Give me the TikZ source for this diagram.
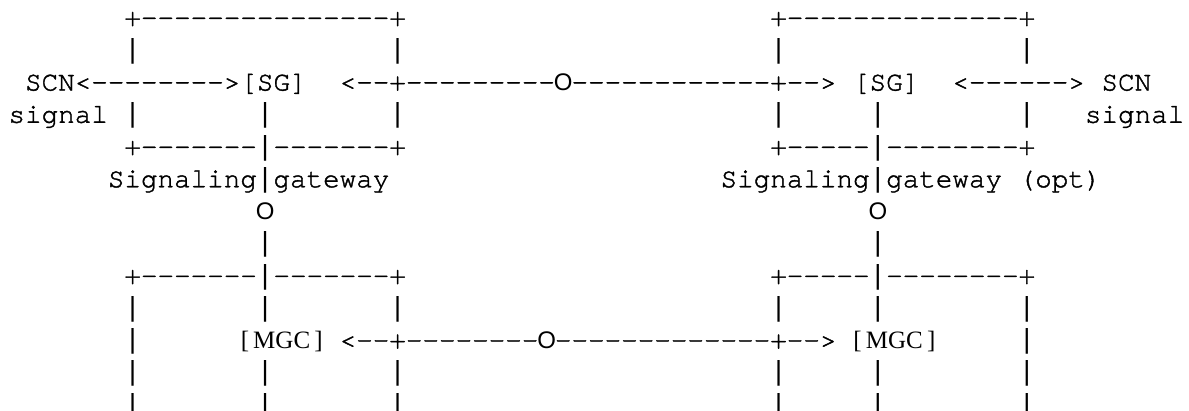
\documentclass[tikz,border=0pt]{standalone}
\usepackage{fontspec}
\usetikzlibrary{positioning}
\newfontfamily\asciifont{texgyrecursor-regular.otf}[Ligatures=TeXOff, FakeBold=1.4]
\newfontfamily\wallfont{Liberation Mono}
\newfontfamily\ringfont{Liberation Sans}
\newfontfamily\agentfont{Liberation Serif}
\newcommand{\wall}{{\wallfont\fontsize{27.6}{32}\selectfont|}}
\tikzstyle{chars}= [inner sep=0pt, outer sep=0pt, anchor=base west,
    font=\asciifont\fontsize{27.6}{32}\selectfont]
\tikzstyle{Ring}= [inner sep=0pt, outer sep=0pt, anchor=base,
    font=\ringfont\fontsize{24}{28}\selectfont]
\tikzstyle{Agent}= [inner sep=0pt, outer sep=0pt, anchor=base,
    font=\agentfont\fontsize{25}{28}\selectfont]

\begin{document}
\begin{tikzpicture}[x=16.56pt, y=-32.25pt]
    \useasboundingbox (0pt,0pt) rectangle (1189pt,-410pt);
    \clip (0pt,0pt) rectangle (1189pt,-410pt);

    \begin{scope}[shift={(8.5pt,-26pt)}]
    % gateway boxes, top edge
    \node [chars] (LeftTop) at (7,0) {+---------------+};
    \node [chars] (RightTop) at (46,0) {+--------------+};
    \foreach \c in {7,23,46,61}
        \node [chars] (Wall-1-\c) at (\c,1) {\wall};

    % SCN signal path
    \node [chars] (LeftSG) at (1,2) {SCN<-------->[SG]};
    \node [chars] (LeftJoin) at (20,2) {<--+---------};
    \node [Ring] (TopRing) at (33.5,2) {O};
    \node [chars] (RightJoin) at (34,2) {------------+-->};
    \node [chars] (RightSG) at (51,2) {[SG]};
    \node [chars] (RightLink) at (57,2) {<------>};
    \node [chars] (RightSCN) at (66,2) {SCN};

    \node [chars] (LeftSignal) at (0,3) {signal};
    \node [chars] (RightSignal) at (65,3) {signal};

    % box bottoms and labels
    \node [chars] (LeftBottom) at (7,4) {+-------\wall-------+};
    \node [chars] (RightBottom) at (46,4) {+-----\wall--------+};
    \node [chars] (LeftLabel) at (6,5) {Signaling\wall gateway};
    \node [chars] (RightLabel) at (43,5) {Signaling\wall gateway};
    \node [chars] (RightOpt) at (61,5) {(opt)};

    % down to the call agents
    \foreach \c in {15,52} {
        \node [Ring] (Tap-\c) at (\c+0.5,6) {O};
        \node [chars] (Stem-\c) at (\c,7) {\wall};
    }
    \node [chars] (LeftMGCTop) at (7,8) {+-------\wall-------+};
    \node [chars] (RightMGCTop) at (46,8) {+-----\wall--------+};

    % MGC path
    \node [Agent] (LeftMGC) at (16.5,10) {[\,MGC\,]};
    \node [chars] (LeftMGCJoin) at (20,10) {<--+--------};
    \node [Ring] (LowRing) at (32.5,10) {O};
    \node [chars] (RightMGCJoin) at (33,10) {-------------+-->};
    \node [Agent] (RightMGC) at (53.5,10) {[\,MGC\,]};
    \foreach \c in {7,61}
        \node [chars] (Wall-10-\c) at (\c,10) {\wall};

    \foreach \r in {3,9,11,12}
        \foreach \c in {7,15,23,46,52,61}
            \node [chars] (Wall-\r-\c) at (\c,\r) {\wall};
    \end{scope}
\end{tikzpicture}
\end{document}
